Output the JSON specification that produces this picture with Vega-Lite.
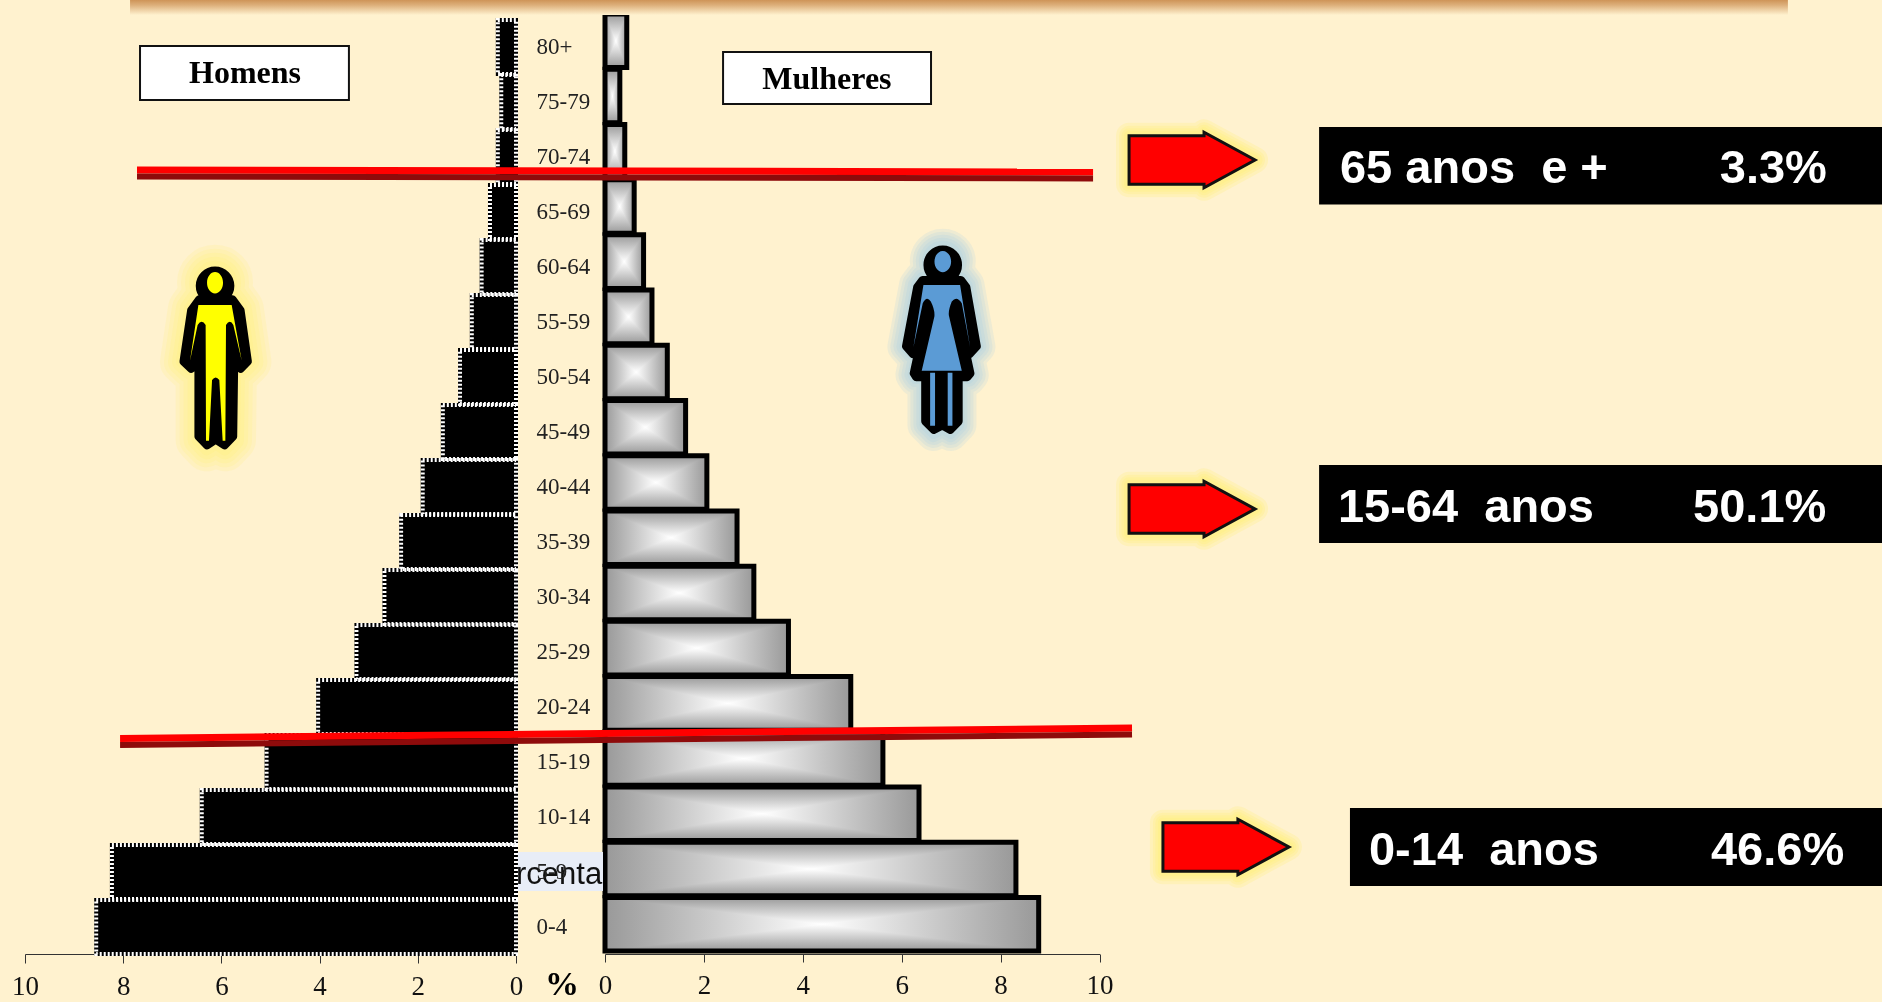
{
"$schema":"https://vega.github.io/schema/vega-lite/v6.json",
"width":1882,"height":1002,"padding":0,"autosize":"none","background":"#FFF2CF",
"config":{"view":{"stroke":null},"axis":{"grid":false,"title":null}},
"datasets":{
"pop":[
{"age":"80+","homens":0.37,"mulheres":0.44},{"age":"75-79","homens":0.30,"mulheres":0.30},{"age":"70-74","homens":0.37,"mulheres":0.40},{"age":"65-69","homens":0.53,"mulheres":0.59},{"age":"60-64","homens":0.70,"mulheres":0.78},{"age":"55-59","homens":0.90,"mulheres":0.95},{"age":"50-54","homens":1.14,"mulheres":1.26},{"age":"45-49","homens":1.49,"mulheres":1.63},{"age":"40-44","homens":1.90,"mulheres":2.06},{"age":"35-39","homens":2.34,"mulheres":2.67},{"age":"30-34","homens":2.68,"mulheres":3.01},{"age":"25-29","homens":3.25,"mulheres":3.71},{"age":"20-24","homens":4.03,"mulheres":4.97},{"age":"15-19","homens":5.08,"mulheres":5.62},{"age":"10-14","homens":6.40,"mulheres":6.35},{"age":"5-9","homens":8.23,"mulheres":8.31},{"age":"0-4","homens":8.55,"mulheres":8.77}],
"note":[{"item":"annotation"}]
},
"data":{"name":"pop"},
"resolve":{"scale":{"x":"independent","y":"independent"}},
"layer":[
{"encoding":{
"x":{"field":"homens","type":"quantitative","scale":{"domain":[10,0],"range":[25,516],"nice":false,"zero":false},"axis":{"orient":"bottom","offset":-48,"values":[0,2,4,6,8,10],"format":"d","tickSize":9,"tickColor":"#333","domainColor":"#333","labelFont":"Liberation Serif","labelFontSize":27,"labelColor":"#111","labelPadding":10,"labelFlush":false,"labelOverlap":false}},
"y":{"field":"age","type":"nominal","sort":null,"scale":{"domain":["80+","75-79","70-74","65-69","60-64","55-59","50-54","45-49","40-44","35-39","30-34","25-29","20-24","15-19","10-14","5-9","0-4"],"range":[20,954],"paddingInner":0.02,"paddingOuter":0},"axis":{"orient":"left","offset":-536,"ticks":false,"domain":false,"labelAlign":"left","labelPadding":0,"labelFont":"Liberation Serif","labelFontSize":23,"labelColor":"#222","labelOverlap":false,"zindex":1}},
"x2":{"datum":0}},
"layer":[
{"mark":{"type":"bar","fill":"#000","stroke":"#000","strokeWidth":4}},
{"mark":{"type":"bar","fill":null,"stroke":"#fff","strokeWidth":4,"strokeDash":[2,2]}}
]},
{"encoding":{
"x":{"field":"mulheres","type":"quantitative","scale":{"domain":[0,10],"range":[605,1099.5],"nice":false,"zero":false},"axis":{"orient":"bottom","offset":-48,"values":[0,2,4,6,8,10],"format":"d","tickSize":8,"tickColor":"#333","domainColor":"#333","labelFont":"Liberation Serif","labelFontSize":27,"labelColor":"#111","labelPadding":10,"labelFlush":false,"labelOverlap":false}},
"y":{"field":"age","type":"nominal","sort":null,"scale":{"domain":["80+","75-79","70-74","65-69","60-64","55-59","50-54","45-49","40-44","35-39","30-34","25-29","20-24","15-19","10-14","5-9","0-4"],"range":[14,951],"paddingInner":0.03,"paddingOuter":0},"axis":null},
"x2":{"datum":0}},
"layer":[
{"mark":{"type":"bar","fill":{"gradient":"linear","x1":0,"y1":0,"x2":1,"y2":0,"stops":[{"offset":0,"color":"#999999"},{"offset":0.5,"color":"#ffffff"},{"offset":1,"color":"#999999"}]}}},
{"mark":{"type":"bar","blend":"darken","fill":{"gradient":"linear","x1":0,"y1":0,"x2":0,"y2":1,"stops":[{"offset":0,"color":"#999999"},{"offset":0.5,"color":"#ffffff"},{"offset":1,"color":"#999999"}]}}},
{"mark":{"type":"bar","fill":null,"stroke":"#000","strokeWidth":5}}
]},
{"layer":[
{"data":{"name":"note"},"mark":{"type":"rect","fill":{"gradient":"linear","x1":0,"y1":0,"x2":0,"y2":1,"stops":[{"offset":0,"color":"#CE9458"},{"offset":0.35,"color":"#DDB07C"},{"offset":1,"color":"#FFF2CF"}]}},"encoding":{"x":{"datum":6.91,"scale":{"domain":[0,100],"range":[0,1882]},"axis":null},"x2":{"datum":95.0},"y":{"datum":0,"scale":{"domain":[0,100],"range":[0,1002]},"axis":null},"y2":{"datum":1.5}}},

{"data":{"name":"note"},"mark":{"type":"rule","stroke":"#FF0000","strokeWidth":7},"encoding":{"x":{"datum":7.28,"scale":{"domain":[0,100],"range":[0,1882]},"axis":null},"x2":{"datum":58.08},"y":{"datum":16.97,"scale":{"domain":[0,100],"range":[0,1002]},"axis":null},"y2":{"datum":17.17}}},
{"data":{"name":"note"},"mark":{"type":"rule","stroke":"#8E0B0B","strokeWidth":6},"encoding":{"x":{"datum":7.28,"scale":{"domain":[0,100],"range":[0,1882]},"axis":null},"x2":{"datum":58.08},"y":{"datum":17.61,"scale":{"domain":[0,100],"range":[0,1002]},"axis":null},"y2":{"datum":17.81}}},
{"data":{"name":"note"},"mark":{"type":"rule","stroke":"#FF0000","strokeWidth":7},"encoding":{"x":{"datum":6.38,"scale":{"domain":[0,100],"range":[0,1882]},"axis":null},"x2":{"datum":60.15},"y":{"datum":73.70,"scale":{"domain":[0,100],"range":[0,1002]},"axis":null},"y2":{"datum":72.66}}},
{"data":{"name":"note"},"mark":{"type":"rule","stroke":"#8E0B0B","strokeWidth":6},"encoding":{"x":{"datum":6.38,"scale":{"domain":[0,100],"range":[0,1882]},"axis":null},"x2":{"datum":60.15},"y":{"datum":74.35,"scale":{"domain":[0,100],"range":[0,1002]},"axis":null},"y2":{"datum":73.30}}},

{"data":{"name":"note"},"mark":{"type":"rect","fill":"#E8EDF7"},"encoding":{"x":{"datum":27.52,"scale":{"domain":[0,100],"range":[0,1882]},"axis":null},"x2":{"datum":32.04},"y":{"datum":85.03,"scale":{"domain":[0,100],"range":[0,1002]},"axis":null},"y2":{"datum":88.92}}},
{"data":{"values":[{"label":"rcenta"}]},"mark":{"type":"text","font":"Liberation Sans","fontSize":31,"align":"left","baseline":"alphabetic","fill":"#111"},"encoding":{"text":{"field":"label"},"x":{"datum":27.42,"scale":{"domain":[0,100],"range":[0,1882]},"axis":null},"y":{"datum":88.22,"scale":{"domain":[0,100],"range":[0,1002]},"axis":null}}},

{"data":{"name":"note"},"mark":{"type":"rect","fill":"#fff","stroke":"#111","strokeWidth":2},"encoding":{"x":{"datum":7.44,"scale":{"domain":[0,100],"range":[0,1882]},"axis":null},"x2":{"datum":18.54},"y":{"datum":4.59,"scale":{"domain":[0,100],"range":[0,1002]},"axis":null},"y2":{"datum":9.98}}},
{"data":{"name":"note"},"mark":{"type":"rect","fill":"#fff","stroke":"#111","strokeWidth":2},"encoding":{"x":{"datum":38.42,"scale":{"domain":[0,100],"range":[0,1882]},"axis":null},"x2":{"datum":49.47},"y":{"datum":5.19,"scale":{"domain":[0,100],"range":[0,1002]},"axis":null},"y2":{"datum":10.38}}},
{"data":{"values":[{"label":"Homens"}]},"mark":{"type":"text","font":"Liberation Serif","fontWeight":"bold","fontSize":32,"align":"center","baseline":"alphabetic","fill":"#000"},"encoding":{"text":{"field":"label"},"x":{"datum":13.02,"scale":{"domain":[0,100],"range":[0,1882]},"axis":null},"y":{"datum":8.28,"scale":{"domain":[0,100],"range":[0,1002]},"axis":null}}},
{"data":{"values":[{"label":"Mulheres"}]},"mark":{"type":"text","font":"Liberation Serif","fontWeight":"bold","fontSize":32,"align":"center","baseline":"alphabetic","fill":"#000"},"encoding":{"text":{"field":"label"},"x":{"datum":43.94,"scale":{"domain":[0,100],"range":[0,1882]},"axis":null},"y":{"datum":8.88,"scale":{"domain":[0,100],"range":[0,1002]},"axis":null}}},
{"data":{"values":[{"label":"%"}]},"mark":{"type":"text","font":"Liberation Serif","fontWeight":"bold","fontSize":34,"align":"center","baseline":"alphabetic","fill":"#000"},"encoding":{"text":{"field":"label"},"x":{"datum":29.86,"scale":{"domain":[0,100],"range":[0,1882]},"axis":null},"y":{"datum":99.3,"scale":{"domain":[0,100],"range":[0,1002]},"axis":null}}},

{"data":{"name":"note"},"layer":[
{"mark":{"type":"point","filled":false,"opacity":1,"fill":null,"stroke":"#FFEE66","strokeOpacity":0.14,"strokeWidth":44,"strokeJoin":"round","size":34596,"shape":"M-0.186,-0.645 L0.190,-0.645 L0.280,-0.520 L0.362,0.054 L0.280,0.136 L0.208,0.072 L0.197,0.896 L0.100,0.996 L0,0.932 L-0.097,0.996 L-0.194,0.896 L-0.194,0.072 L-0.276,0.136 L-0.362,0.054 L-0.276,-0.520 Z M-0.179,-0.796 A0.172,0.172 0 1 1 0.165,-0.796 A0.172,0.172 0 1 1 -0.179,-0.796 Z"}},
{"mark":{"type":"point","filled":false,"opacity":1,"fill":null,"stroke":"#FFEE66","strokeOpacity":0.14,"strokeWidth":36,"strokeJoin":"round","size":34596,"shape":"M-0.186,-0.645 L0.190,-0.645 L0.280,-0.520 L0.362,0.054 L0.280,0.136 L0.208,0.072 L0.197,0.896 L0.100,0.996 L0,0.932 L-0.097,0.996 L-0.194,0.896 L-0.194,0.072 L-0.276,0.136 L-0.362,0.054 L-0.276,-0.520 Z M-0.179,-0.796 A0.172,0.172 0 1 1 0.165,-0.796 A0.172,0.172 0 1 1 -0.179,-0.796 Z"}},
{"mark":{"type":"point","filled":false,"opacity":1,"fill":null,"stroke":"#FFEE66","strokeOpacity":0.14,"strokeWidth":28,"strokeJoin":"round","size":34596,"shape":"M-0.186,-0.645 L0.190,-0.645 L0.280,-0.520 L0.362,0.054 L0.280,0.136 L0.208,0.072 L0.197,0.896 L0.100,0.996 L0,0.932 L-0.097,0.996 L-0.194,0.896 L-0.194,0.072 L-0.276,0.136 L-0.362,0.054 L-0.276,-0.520 Z M-0.179,-0.796 A0.172,0.172 0 1 1 0.165,-0.796 A0.172,0.172 0 1 1 -0.179,-0.796 Z"}},
{"mark":{"type":"point","filled":false,"opacity":1,"fill":null,"stroke":"#FFEE66","strokeOpacity":0.14,"strokeWidth":20,"strokeJoin":"round","size":34596,"shape":"M-0.186,-0.645 L0.190,-0.645 L0.280,-0.520 L0.362,0.054 L0.280,0.136 L0.208,0.072 L0.197,0.896 L0.100,0.996 L0,0.932 L-0.097,0.996 L-0.194,0.896 L-0.194,0.072 L-0.276,0.136 L-0.362,0.054 L-0.276,-0.520 Z M-0.179,-0.796 A0.172,0.172 0 1 1 0.165,-0.796 A0.172,0.172 0 1 1 -0.179,-0.796 Z"}},
{"mark":{"type":"point","filled":false,"opacity":1,"fill":null,"stroke":"#FFEE66","strokeOpacity":0.14,"strokeWidth":12,"strokeJoin":"round","size":34596,"shape":"M-0.186,-0.645 L0.190,-0.645 L0.280,-0.520 L0.362,0.054 L0.280,0.136 L0.208,0.072 L0.197,0.896 L0.100,0.996 L0,0.932 L-0.097,0.996 L-0.194,0.896 L-0.194,0.072 L-0.276,0.136 L-0.362,0.054 L-0.276,-0.520 Z M-0.179,-0.796 A0.172,0.172 0 1 1 0.165,-0.796 A0.172,0.172 0 1 1 -0.179,-0.796 Z"}},
{"mark":{"type":"point","filled":true,"opacity":1,"fill":"#000","stroke":"#000","strokeWidth":8,"strokeJoin":"round","size":31684,"shape":"M-0.186,-0.645 L0.190,-0.645 L0.280,-0.520 L0.362,0.054 L0.280,0.136 L0.208,0.072 L0.197,0.896 L0.100,0.996 L0,0.932 L-0.097,0.996 L-0.194,0.896 L-0.194,0.072 L-0.276,0.136 L-0.362,0.054 L-0.276,-0.520 Z M-0.179,-0.796 A0.172,0.172 0 1 1 0.165,-0.796 A0.172,0.172 0 1 1 -0.179,-0.796 Z"}},
{"mark":{"type":"point","filled":true,"opacity":1,"fill":"#FFFF00","strokeWidth":0,"size":34596,"shape":"M-0.186,-0.556 L0.172,-0.556 L0.280,0.043 L0.190,-0.341 Q0.154,-0.412 0.111,-0.341 L0.104,0.903 L0.075,0.903 L0.039,0.251 Q0,0.197 -0.039,0.251 L-0.072,0.903 L-0.104,0.903 L-0.108,-0.341 Q-0.151,-0.412 -0.194,-0.341 L-0.276,0.043 Z M-0.093,-0.796 A0.086,0.115 0 1 1 0.079,-0.796 A0.086,0.115 0 1 1 -0.093,-0.796 Z"}}
],"encoding":{"x":{"datum":11.46,"scale":{"domain":[0,100],"range":[0,1882]},"axis":null},"y":{"datum":35.60,"scale":{"domain":[0,100],"range":[0,1002]},"axis":null}}},

{"data":{"name":"note"},"layer":[
{"mark":{"type":"point","filled":false,"opacity":1,"fill":null,"stroke":"#9DC8E6","strokeOpacity":0.17,"strokeWidth":34,"strokeJoin":"round","size":35721,"shape":"M-0.212,-0.656 L0.212,-0.656 L0.272,-0.575 L0.388,0.078 L0.307,0.166 L0.272,0.166 L0.317,0.377 L0.282,0.420 L0.187,0.420 L0.187,0.907 L0.095,1.002 L0.007,0.952 L-0.088,1.002 L-0.183,0.907 L-0.183,0.420 L-0.282,0.420 L-0.310,0.377 L-0.265,0.166 L-0.317,0.166 L-0.395,0.078 L-0.272,-0.575 Z M-0.158,-0.822 A0.169,0.169 0 1 1 0.180,-0.822 A0.169,0.169 0 1 1 -0.158,-0.822 Z"}},
{"mark":{"type":"point","filled":false,"opacity":1,"fill":null,"stroke":"#9DC8E6","strokeOpacity":0.17,"strokeWidth":28,"strokeJoin":"round","size":35721,"shape":"M-0.212,-0.656 L0.212,-0.656 L0.272,-0.575 L0.388,0.078 L0.307,0.166 L0.272,0.166 L0.317,0.377 L0.282,0.420 L0.187,0.420 L0.187,0.907 L0.095,1.002 L0.007,0.952 L-0.088,1.002 L-0.183,0.907 L-0.183,0.420 L-0.282,0.420 L-0.310,0.377 L-0.265,0.166 L-0.317,0.166 L-0.395,0.078 L-0.272,-0.575 Z M-0.158,-0.822 A0.169,0.169 0 1 1 0.180,-0.822 A0.169,0.169 0 1 1 -0.158,-0.822 Z"}},
{"mark":{"type":"point","filled":false,"opacity":1,"fill":null,"stroke":"#9DC8E6","strokeOpacity":0.17,"strokeWidth":22,"strokeJoin":"round","size":35721,"shape":"M-0.212,-0.656 L0.212,-0.656 L0.272,-0.575 L0.388,0.078 L0.307,0.166 L0.272,0.166 L0.317,0.377 L0.282,0.420 L0.187,0.420 L0.187,0.907 L0.095,1.002 L0.007,0.952 L-0.088,1.002 L-0.183,0.907 L-0.183,0.420 L-0.282,0.420 L-0.310,0.377 L-0.265,0.166 L-0.317,0.166 L-0.395,0.078 L-0.272,-0.575 Z M-0.158,-0.822 A0.169,0.169 0 1 1 0.180,-0.822 A0.169,0.169 0 1 1 -0.158,-0.822 Z"}},
{"mark":{"type":"point","filled":false,"opacity":1,"fill":null,"stroke":"#9DC8E6","strokeOpacity":0.17,"strokeWidth":16,"strokeJoin":"round","size":35721,"shape":"M-0.212,-0.656 L0.212,-0.656 L0.272,-0.575 L0.388,0.078 L0.307,0.166 L0.272,0.166 L0.317,0.377 L0.282,0.420 L0.187,0.420 L0.187,0.907 L0.095,1.002 L0.007,0.952 L-0.088,1.002 L-0.183,0.907 L-0.183,0.420 L-0.282,0.420 L-0.310,0.377 L-0.265,0.166 L-0.317,0.166 L-0.395,0.078 L-0.272,-0.575 Z M-0.158,-0.822 A0.169,0.169 0 1 1 0.180,-0.822 A0.169,0.169 0 1 1 -0.158,-0.822 Z"}},
{"mark":{"type":"point","filled":false,"opacity":1,"fill":null,"stroke":"#9DC8E6","strokeOpacity":0.17,"strokeWidth":10,"strokeJoin":"round","size":35721,"shape":"M-0.212,-0.656 L0.212,-0.656 L0.272,-0.575 L0.388,0.078 L0.307,0.166 L0.272,0.166 L0.317,0.377 L0.282,0.420 L0.187,0.420 L0.187,0.907 L0.095,1.002 L0.007,0.952 L-0.088,1.002 L-0.183,0.907 L-0.183,0.420 L-0.282,0.420 L-0.310,0.377 L-0.265,0.166 L-0.317,0.166 L-0.395,0.078 L-0.272,-0.575 Z M-0.158,-0.822 A0.169,0.169 0 1 1 0.180,-0.822 A0.169,0.169 0 1 1 -0.158,-0.822 Z"}},
{"mark":{"type":"point","filled":true,"opacity":1,"fill":"#000","stroke":"#000","strokeWidth":8,"strokeJoin":"round","size":32761,"shape":"M-0.212,-0.656 L0.212,-0.656 L0.272,-0.575 L0.388,0.078 L0.307,0.166 L0.272,0.166 L0.317,0.377 L0.282,0.420 L0.187,0.420 L0.187,0.907 L0.095,1.002 L0.007,0.952 L-0.088,1.002 L-0.183,0.907 L-0.183,0.420 L-0.282,0.420 L-0.310,0.377 L-0.265,0.166 L-0.317,0.166 L-0.395,0.078 L-0.272,-0.575 Z M-0.158,-0.822 A0.169,0.169 0 1 1 0.180,-0.822 A0.169,0.169 0 1 1 -0.158,-0.822 Z"}},
{"mark":{"type":"point","filled":true,"opacity":1,"fill":"#5B9BD5","strokeWidth":0,"size":35721,"shape":"M-0.194,-0.575 L0.194,-0.575 L0.300,0.085 L0.212,-0.381 Q0.159,-0.469 0.106,-0.399 Q0.063,-0.293 0.078,-0.240 L0.212,0.332 L-0.212,0.332 L-0.078,-0.240 Q-0.071,-0.310 -0.116,-0.399 Q-0.159,-0.469 -0.201,-0.381 L-0.300,0.085 Z M-0.123,0.353 L-0.071,0.353 L-0.071,0.914 L-0.123,0.914 Z M0.063,0.353 L0.113,0.353 L0.113,0.914 L0.063,0.914 Z M-0.077,-0.822 A0.088,0.113 0 1 1 0.099,-0.822 A0.088,0.113 0 1 1 -0.077,-0.822 Z"}}
],"encoding":{"x":{"datum":50.04,"scale":{"domain":[0,100],"range":[0,1882]},"axis":null},"y":{"datum":33.86,"scale":{"domain":[0,100],"range":[0,1002]},"axis":null}}},

{"data":{"values":[{"arrow":"65+","x":63.34,"y":15.97},{"arrow":"15-64","x":63.34,"y":50.80},{"arrow":"0-14","x":65.14,"y":84.53}]},"layer":[
{"mark":{"type":"point","filled":false,"opacity":1,"fill":null,"stroke":"#FFEE66","strokeOpacity":0.2,"strokeWidth":26,"strokeJoin":"round","size":15876,"shape":"M-1,-0.385 L0.19,-0.385 L0.19,-0.44 L1,0 L0.19,0.44 L0.19,0.385 L-1,0.385 Z"}},
{"mark":{"type":"point","filled":false,"opacity":1,"fill":null,"stroke":"#FFEE66","strokeOpacity":0.2,"strokeWidth":20,"strokeJoin":"round","size":15876,"shape":"M-1,-0.385 L0.19,-0.385 L0.19,-0.44 L1,0 L0.19,0.44 L0.19,0.385 L-1,0.385 Z"}},
{"mark":{"type":"point","filled":false,"opacity":1,"fill":null,"stroke":"#FFEE66","strokeOpacity":0.2,"strokeWidth":15,"strokeJoin":"round","size":15876,"shape":"M-1,-0.385 L0.19,-0.385 L0.19,-0.44 L1,0 L0.19,0.44 L0.19,0.385 L-1,0.385 Z"}},
{"mark":{"type":"point","filled":false,"opacity":1,"fill":null,"stroke":"#FFEE66","strokeOpacity":0.2,"strokeWidth":10,"strokeJoin":"round","size":15876,"shape":"M-1,-0.385 L0.19,-0.385 L0.19,-0.44 L1,0 L0.19,0.44 L0.19,0.385 L-1,0.385 Z"}},
{"mark":{"type":"point","filled":true,"opacity":1,"fill":"#FF0000","stroke":"#111","strokeWidth":3,"size":15876,"shape":"M-1,-0.385 L0.19,-0.385 L0.19,-0.44 L1,0 L0.19,0.44 L0.19,0.385 L-1,0.385 Z"}}
],"encoding":{"x":{"field":"x","type":"quantitative","scale":{"domain":[0,100],"range":[0,1882]},"axis":null},"y":{"field":"y","type":"quantitative","scale":{"domain":[0,100],"range":[0,1002]},"axis":null}}},

{"data":{"name":"note"},"mark":{"type":"rect","fill":"#000"},"encoding":{"x":{"datum":70.09,"scale":{"domain":[0,100],"range":[0,1882]},"axis":null},"x2":{"datum":100},"y":{"datum":12.67,"scale":{"domain":[0,100],"range":[0,1002]},"axis":null},"y2":{"datum":20.40}}},
{"data":{"name":"note"},"mark":{"type":"rect","fill":"#000"},"encoding":{"x":{"datum":70.09,"scale":{"domain":[0,100],"range":[0,1882]},"axis":null},"x2":{"datum":100},"y":{"datum":46.41,"scale":{"domain":[0,100],"range":[0,1002]},"axis":null},"y2":{"datum":54.19}}},
{"data":{"name":"note"},"mark":{"type":"rect","fill":"#000"},"encoding":{"x":{"datum":71.73,"scale":{"domain":[0,100],"range":[0,1882]},"axis":null},"x2":{"datum":100},"y":{"datum":80.64,"scale":{"domain":[0,100],"range":[0,1002]},"axis":null},"y2":{"datum":88.42}}},
{"data":{"values":[{"label":"65 anos \u00a0e +"}]},"mark":{"type":"text","font":"Liberation Sans","fontWeight":"bold","fontSize":47,"align":"left","baseline":"alphabetic","fill":"#fff"},"encoding":{"text":{"field":"label"},"x":{"datum":71.20,"scale":{"domain":[0,100],"range":[0,1882]},"axis":null},"y":{"datum":18.26,"scale":{"domain":[0,100],"range":[0,1002]},"axis":null}}},
{"data":{"values":[{"label":"3.3%"}]},"mark":{"type":"text","font":"Liberation Sans","fontWeight":"bold","fontSize":47,"align":"left","baseline":"alphabetic","fill":"#fff"},"encoding":{"text":{"field":"label"},"x":{"datum":91.38,"scale":{"domain":[0,100],"range":[0,1882]},"axis":null},"y":{"datum":18.26,"scale":{"domain":[0,100],"range":[0,1002]},"axis":null}}},
{"data":{"values":[{"label":"15-64 \u00a0anos"}]},"mark":{"type":"text","font":"Liberation Sans","fontWeight":"bold","fontSize":47,"align":"left","baseline":"alphabetic","fill":"#fff"},"encoding":{"text":{"field":"label"},"x":{"datum":71.09,"scale":{"domain":[0,100],"range":[0,1882]},"axis":null},"y":{"datum":52.1,"scale":{"domain":[0,100],"range":[0,1002]},"axis":null}}},
{"data":{"values":[{"label":"50.1%"}]},"mark":{"type":"text","font":"Liberation Sans","fontWeight":"bold","fontSize":47,"align":"left","baseline":"alphabetic","fill":"#fff"},"encoding":{"text":{"field":"label"},"x":{"datum":89.96,"scale":{"domain":[0,100],"range":[0,1882]},"axis":null},"y":{"datum":52.1,"scale":{"domain":[0,100],"range":[0,1002]},"axis":null}}},
{"data":{"values":[{"label":"0-14 \u00a0anos"}]},"mark":{"type":"text","font":"Liberation Sans","fontWeight":"bold","fontSize":47,"align":"left","baseline":"alphabetic","fill":"#fff"},"encoding":{"text":{"field":"label"},"x":{"datum":72.74,"scale":{"domain":[0,100],"range":[0,1882]},"axis":null},"y":{"datum":86.33,"scale":{"domain":[0,100],"range":[0,1002]},"axis":null}}},
{"data":{"values":[{"label":"46.6%"}]},"mark":{"type":"text","font":"Liberation Sans","fontWeight":"bold","fontSize":47,"align":"left","baseline":"alphabetic","fill":"#fff"},"encoding":{"text":{"field":"label"},"x":{"datum":90.91,"scale":{"domain":[0,100],"range":[0,1882]},"axis":null},"y":{"datum":86.33,"scale":{"domain":[0,100],"range":[0,1002]},"axis":null}}}
]}
]
}
